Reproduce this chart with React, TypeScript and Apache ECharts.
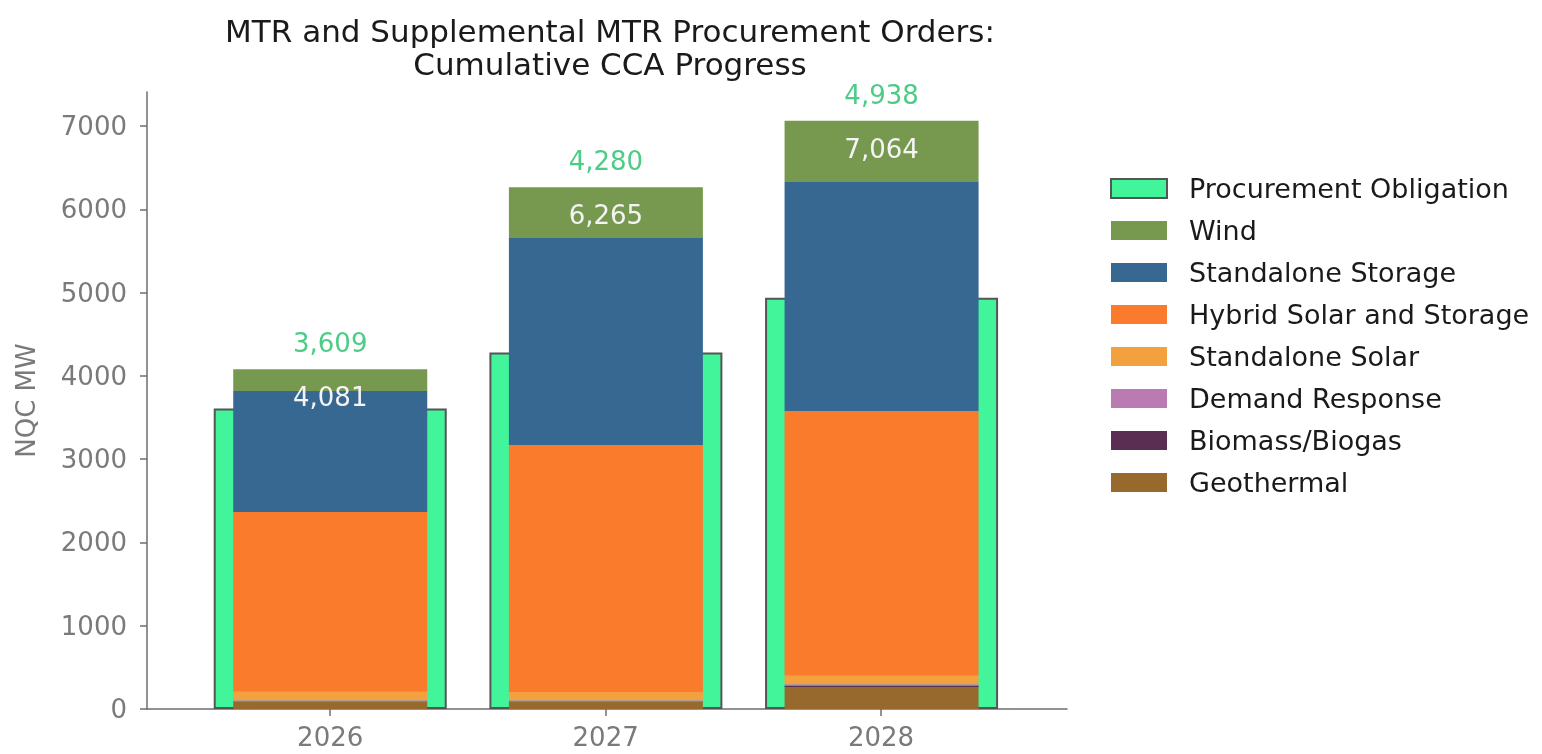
import React, { useEffect, useRef } from "react";
import * as echarts from "echarts";

const years = ["2026", "2027", "2028"];
const obligation = [3609, 4280, 4938];
const geothermal = [85, 85, 262];
const biomass = [5, 5, 20];
const demandResponse = [15, 15, 15];
const standaloneSolar = [105, 100, 105];
const hybrid = [2155, 2965, 3176];
const standaloneStorage = [1453, 2497, 2761];
const wind = [263, 598, 725];
const yTicks = [0, 1000, 2000, 3000, 4000, 5000, 6000, 7000];

const FONT = "DejaVu Sans";
const fmt = (v: number) => v.toLocaleString("en-US");
const Y_MAX = 7410;

export default function App() {
  const ref = useRef<HTMLDivElement>(null);
  useEffect(() => {
    const chart = echarts.init(ref.current!, null, { renderer: "svg" });
    const xIdx = years.map((_, i) => i);
    const totals = xIdx.map(
      (i) =>
        geothermal[i] + biomass[i] + demandResponse[i] + standaloneSolar[i] + hybrid[i] + standaloneStorage[i] + wind[i]
    );
    const stackSeries = [
      { name: "Geothermal", data: geothermal, color: "#97692c" },
      { name: "Biomass/Biogas", data: biomass, color: "#5a2e52" },
      { name: "Demand Response", data: demandResponse, color: "#b97bb2" },
      { name: "Standalone Solar", data: standaloneSolar, color: "#f3a13f" },
      { name: "Hybrid Solar and Storage", data: hybrid, color: "#f97b2b" },
      { name: "Standalone Storage", data: standaloneStorage, color: "#376891" },
      { name: "Wind", data: wind, color: "#77994f" },
    ].map((s, k, arr) => ({
      name: s.name,
      type: "bar",
      stack: "total",
      xAxisIndex: 1,
      yAxisIndex: 1,
      barWidth: 194,
      z: 3,
      itemStyle: { color: s.color },
      data: s.data,
      label:
        k === arr.length - 1
          ? {
              show: true,
              position: "insideTop",
              distance: 15,
              color: "#f4f4f4",
              fontFamily: FONT,
              fontSize: 26,
              formatter: (p: any) => fmt(totals[p.dataIndex]),
            }
          : { show: false },
    }));

    const axisColor = "#6e6e6e";
    const labelColor = "#7a7a7a";

    chart.setOption({
      animation: false,
      title: {
        text: "MTR and Supplemental MTR Procurement Orders:\nCumulative CCA Progress",
        left: 605,
        top: 9,
        textAlign: "center",
        textStyle: { fontFamily: FONT, fontSize: 31, fontWeight: "normal", color: "#1a1a1a", lineHeight: 33 },
      },
      legend: {
        orient: "vertical",
        left: 1110,
        top: 175,
        padding: 0,
        itemWidth: 56,
        itemHeight: 19,
        itemGap: 15,
        icon: "rect",
        data: [
          "Procurement Obligation",
          "Wind",
          "Standalone Storage",
          "Hybrid Solar and Storage",
          "Standalone Solar",
          "Demand Response",
          "Biomass/Biogas",
          "Geothermal",
        ],
        textStyle: { fontFamily: FONT, fontSize: 27, color: "#1a1a1a", padding: [0, 0, 0, 17] },
      },
      grid: [
        { left: 147, right: 475, top: 92, bottom: 45 },
        { left: 192.4, right: 522.6, top: 92, bottom: 45 },
      ],
      xAxis: [
        {
          type: "value",
          gridIndex: 0,
          min: -0.665,
          max: 2.675,
          splitLine: { show: false },
          axisLine: { show: true, onZero: false, lineStyle: { color: axisColor, width: 1.5 } },
          axisTick: { show: true, length: 7, customValues: xIdx, lineStyle: { color: axisColor, width: 1.5 } },
          axisLabel: {
            customValues: xIdx,
            margin: 15,
            color: labelColor,
            fontFamily: FONT,
            fontSize: 26,
            formatter: (v: number) => years[Math.round(v)] ?? "",
          },
        },
        { type: "category", gridIndex: 1, data: years, show: false },
        { type: "category", gridIndex: 1, data: years, show: false },
      ],
      yAxis: [
        {
          type: "value",
          gridIndex: 0,
          min: 0,
          max: Y_MAX,
          name: "NQC MW",
          nameLocation: "middle",
          nameGap: 108,
          nameTextStyle: { fontFamily: FONT, fontSize: 26, color: labelColor },
          splitLine: { show: false },
          axisLine: { show: true, onZero: false, lineStyle: { color: axisColor, width: 1.5 } },
          axisTick: { show: true, length: 7, customValues: yTicks, lineStyle: { color: axisColor, width: 1.5 } },
          axisLabel: {
            customValues: yTicks,
            margin: 20,
            color: labelColor,
            fontFamily: FONT,
            fontSize: 26,
            formatter: (v: number) => String(v),
          },
        },
        { type: "value", gridIndex: 1, min: 0, max: Y_MAX, show: false, splitLine: { show: false } },
      ],
      series: [
        {
          name: "Procurement Obligation",
          type: "bar",
          xAxisIndex: 2,
          yAxisIndex: 1,
          barWidth: 233,
          z: 1,
          itemStyle: { color: "#42f59b", borderColor: "#555555", borderWidth: 2 },
          data: obligation,
        },
        ...stackSeries,
        {
          name: "obligationLabel",
          type: "scatter",
          xAxisIndex: 1,
          yAxisIndex: 1,
          symbolSize: 0,
          z: 5,
          data: totals,
          label: {
            show: true,
            position: "top",
            distance: 13,
            color: "#1fbf66",
            fontFamily: FONT,
            fontSize: 26,
            formatter: (p: any) => fmt(obligation[p.dataIndex]),
          },
          silent: true,
        },
      ],
    });
    return () => chart.dispose();
  }, []);
  return <div ref={ref} style={{ position: "fixed", left: 0, top: 0, width: 1542, height: 754 }} />;
}
